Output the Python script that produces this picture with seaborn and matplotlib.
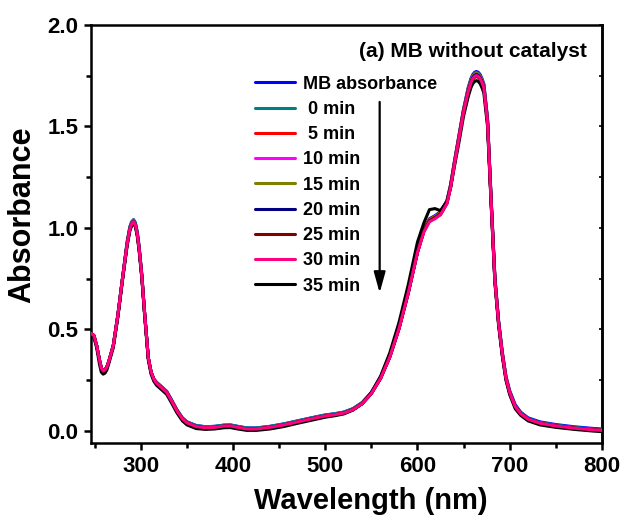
import matplotlib
matplotlib.use("Agg")
import matplotlib.pyplot as plt
import seaborn as sns
import pandas as pd
from matplotlib.ticker import MultipleLocator, FormatStrFormatter
from matplotlib.lines import Line2D

wavelength = [246, 249, 252, 255, 257, 259, 261, 263, 265, 270, 275, 280,
              285, 288, 290, 292, 294, 296, 298, 301, 304, 308, 311, 314,
              317, 322, 328, 333, 339, 345, 350, 360, 370, 380,
              390, 397, 405, 415, 425, 440, 455, 470, 485, 500,
              510, 520, 530, 540, 550, 560, 570, 580, 590, 600,
              607, 613, 619, 625, 632, 636, 640, 645, 650,
              655, 658, 660, 662, 664, 666, 668, 670, 672,
              676, 680, 684, 688, 692, 696,
              700, 706, 712, 720, 733, 750, 770, 790, 800]

mb_abs = [0.48, 0.47, 0.42, 0.35, 0.31, 0.295, 0.30, 0.315, 0.34, 0.42, 0.57, 0.75,
          0.93, 1.005, 1.03, 1.04, 1.025, 0.98, 0.91, 0.77, 0.58, 0.36, 0.29, 0.255,
          0.24, 0.22, 0.195, 0.155, 0.105, 0.065, 0.045, 0.027, 0.021, 0.023,
          0.029, 0.030, 0.023, 0.015, 0.015, 0.023, 0.035, 0.050, 0.065, 0.079,
          0.085, 0.093, 0.11, 0.14, 0.19, 0.265, 0.37, 0.51, 0.69, 0.89,
          0.995, 1.045, 1.06, 1.08, 1.135, 1.215, 1.325, 1.455, 1.585,
          1.69, 1.735, 1.755, 1.766, 1.77, 1.766, 1.755, 1.735, 1.71,
          1.54, 1.14, 0.76, 0.545, 0.39, 0.27,
          0.20, 0.13, 0.093, 0.065, 0.045, 0.032, 0.021, 0.013, 0.010]

min_0 = [0.48, 0.47, 0.42, 0.35, 0.31, 0.295, 0.30, 0.315, 0.34, 0.42, 0.57, 0.75,
         0.93, 1.005, 1.03, 1.04, 1.025, 0.98, 0.91, 0.77, 0.58, 0.36, 0.29, 0.255,
         0.24, 0.22, 0.195, 0.155, 0.105, 0.065, 0.045, 0.027, 0.021, 0.023,
         0.029, 0.030, 0.023, 0.015, 0.015, 0.023, 0.035, 0.050, 0.065, 0.079,
         0.085, 0.093, 0.11, 0.14, 0.19, 0.265, 0.37, 0.51, 0.69, 0.89,
         0.99, 1.04, 1.055, 1.075, 1.13, 1.21, 1.32, 1.45, 1.58,
         1.685, 1.73, 1.75, 1.761, 1.765, 1.761, 1.75, 1.73, 1.705,
         1.535, 1.135, 0.755, 0.54, 0.385, 0.265,
         0.195, 0.125, 0.09, 0.062, 0.042, 0.029, 0.018, 0.010, 0.007]

min_5 = [0.48, 0.47, 0.42, 0.35, 0.31, 0.295, 0.30, 0.315, 0.34, 0.42, 0.57, 0.75,
         0.92, 0.995, 1.02, 1.03, 1.015, 0.97, 0.90, 0.76, 0.58, 0.36, 0.29, 0.255,
         0.235, 0.215, 0.19, 0.15, 0.10, 0.06, 0.04, 0.022, 0.016, 0.018,
         0.024, 0.025, 0.018, 0.010, 0.010, 0.018, 0.030, 0.045, 0.060, 0.074,
         0.080, 0.088, 0.105, 0.135, 0.185, 0.26, 0.365, 0.505, 0.68, 0.88,
         0.99, 1.04, 1.055, 1.075, 1.13, 1.21, 1.32, 1.45, 1.58,
         1.68, 1.725, 1.745, 1.756, 1.76, 1.756, 1.745, 1.725, 1.70,
         1.53, 1.13, 0.75, 0.535, 0.385, 0.265,
         0.19, 0.12, 0.085, 0.058, 0.038, 0.025, 0.014, 0.006, 0.003]

min_10 = [0.48, 0.47, 0.42, 0.35, 0.31, 0.295, 0.30, 0.315, 0.34, 0.42, 0.57, 0.75,
          0.92, 0.995, 1.02, 1.03, 1.015, 0.97, 0.90, 0.76, 0.58, 0.36, 0.29, 0.255,
          0.235, 0.215, 0.19, 0.15, 0.10, 0.06, 0.04, 0.022, 0.016, 0.018,
          0.024, 0.025, 0.018, 0.010, 0.010, 0.018, 0.030, 0.045, 0.060, 0.074,
          0.080, 0.088, 0.105, 0.135, 0.185, 0.26, 0.365, 0.505, 0.68, 0.88,
          0.985, 1.035, 1.05, 1.07, 1.125, 1.205, 1.315, 1.445, 1.575,
          1.675, 1.72, 1.74, 1.751, 1.755, 1.751, 1.74, 1.72, 1.695,
          1.525, 1.125, 0.745, 0.535, 0.38, 0.26,
          0.19, 0.12, 0.085, 0.058, 0.038, 0.025, 0.014, 0.006, 0.003]

min_15 = [0.48, 0.47, 0.42, 0.35, 0.31, 0.295, 0.30, 0.315, 0.34, 0.42, 0.57, 0.75,
          0.92, 0.995, 1.02, 1.03, 1.015, 0.97, 0.90, 0.76, 0.58, 0.36, 0.29, 0.255,
          0.235, 0.215, 0.19, 0.15, 0.10, 0.06, 0.04, 0.022, 0.016, 0.018,
          0.024, 0.025, 0.018, 0.010, 0.010, 0.018, 0.030, 0.045, 0.060, 0.074,
          0.080, 0.088, 0.105, 0.135, 0.185, 0.26, 0.365, 0.505, 0.68, 0.88,
          0.99, 1.04, 1.055, 1.075, 1.13, 1.21, 1.32, 1.45, 1.58,
          1.68, 1.725, 1.745, 1.756, 1.76, 1.756, 1.745, 1.725, 1.70,
          1.53, 1.13, 0.75, 0.535, 0.385, 0.265,
          0.19, 0.12, 0.085, 0.058, 0.038, 0.025, 0.014, 0.006, 0.003]

min_20 = [0.48, 0.47, 0.42, 0.35, 0.31, 0.295, 0.30, 0.315, 0.34, 0.42, 0.57, 0.75,
          0.92, 0.995, 1.02, 1.03, 1.015, 0.97, 0.90, 0.76, 0.58, 0.36, 0.29, 0.255,
          0.235, 0.215, 0.19, 0.15, 0.10, 0.06, 0.04, 0.022, 0.016, 0.018,
          0.024, 0.025, 0.018, 0.010, 0.010, 0.018, 0.030, 0.045, 0.060, 0.074,
          0.080, 0.088, 0.105, 0.135, 0.185, 0.26, 0.365, 0.505, 0.68, 0.88,
          0.985, 1.035, 1.05, 1.07, 1.125, 1.205, 1.315, 1.445, 1.575,
          1.675, 1.72, 1.74, 1.751, 1.755, 1.751, 1.74, 1.72, 1.695,
          1.525, 1.125, 0.745, 0.535, 0.38, 0.26,
          0.19, 0.12, 0.085, 0.058, 0.038, 0.025, 0.014, 0.006, 0.003]

min_25 = [0.48, 0.47, 0.42, 0.35, 0.31, 0.295, 0.30, 0.315, 0.34, 0.42, 0.57, 0.75,
          0.92, 0.995, 1.02, 1.03, 1.015, 0.97, 0.90, 0.76, 0.58, 0.36, 0.29, 0.255,
          0.235, 0.215, 0.19, 0.15, 0.10, 0.06, 0.04, 0.022, 0.016, 0.018,
          0.024, 0.025, 0.018, 0.010, 0.010, 0.018, 0.030, 0.045, 0.060, 0.074,
          0.080, 0.088, 0.105, 0.135, 0.185, 0.26, 0.365, 0.505, 0.68, 0.88,
          0.985, 1.035, 1.05, 1.065, 1.12, 1.20, 1.31, 1.44, 1.57,
          1.665, 1.71, 1.73, 1.741, 1.745, 1.741, 1.73, 1.71, 1.685,
          1.515, 1.115, 0.74, 0.53, 0.375, 0.255,
          0.185, 0.12, 0.085, 0.058, 0.038, 0.025, 0.014, 0.006, 0.003]

min_30 = [0.48, 0.47, 0.42, 0.35, 0.31, 0.295, 0.30, 0.315, 0.34, 0.42, 0.57, 0.75,
          0.92, 0.995, 1.02, 1.03, 1.015, 0.97, 0.90, 0.76, 0.58, 0.36, 0.29, 0.255,
          0.235, 0.215, 0.19, 0.15, 0.10, 0.06, 0.04, 0.022, 0.016, 0.018,
          0.024, 0.025, 0.018, 0.010, 0.010, 0.018, 0.030, 0.045, 0.060, 0.074,
          0.080, 0.088, 0.105, 0.135, 0.185, 0.26, 0.365, 0.505, 0.68, 0.88,
          0.98, 1.03, 1.045, 1.065, 1.12, 1.20, 1.31, 1.44, 1.57,
          1.67, 1.715, 1.735, 1.746, 1.75, 1.746, 1.735, 1.715, 1.69,
          1.52, 1.12, 0.74, 0.53, 0.38, 0.26,
          0.19, 0.12, 0.085, 0.058, 0.038, 0.025, 0.014, 0.006, 0.003]

min_35 = [0.47, 0.46, 0.41, 0.33, 0.29, 0.28, 0.285, 0.30, 0.33, 0.41, 0.56, 0.74,
          0.91, 0.985, 1.01, 1.02, 1.005, 0.96, 0.89, 0.75, 0.57, 0.35, 0.28, 0.245,
          0.225, 0.205, 0.18, 0.14, 0.09, 0.05, 0.03, 0.012, 0.008, 0.010,
          0.016, 0.017, 0.010, 0.003, 0.003, 0.010, 0.022, 0.038, 0.053, 0.068,
          0.075, 0.084, 0.103, 0.135, 0.19, 0.27, 0.385, 0.535, 0.72, 0.93,
          1.025, 1.09, 1.095, 1.085, 1.13, 1.20, 1.30, 1.42, 1.55,
          1.645, 1.69, 1.71, 1.721, 1.725, 1.721, 1.71, 1.69, 1.665,
          1.50, 1.11, 0.73, 0.52, 0.37, 0.25,
          0.18, 0.11, 0.077, 0.050, 0.030, 0.018, 0.008, 0.000, -0.003]

series_labels = ["MB absorbance", " 0 min", " 5 min", "10 min", "15 min",
                 "20 min", "25 min", "30 min", "35 min"]
series_values = [mb_abs, min_0, min_5, min_10, min_15, min_20, min_25, min_30, min_35]
series_colors = ["#0000FF", "#008080", "#FF0000", "#FF00FF", "#808000",
                 "#000080", "#800000", "#FF0080", "#000000"]

title_text = "(a) MB without catalyst"
xlabel_text = "Wavelength (nm)"
ylabel_text = "Absorbance"

sns.set_theme(style="ticks")
plt.rcParams["font.family"] = ["Liberation Sans", "DejaVu Sans"]
plt.rcParams["font.weight"] = "bold"
plt.rcParams["axes.labelweight"] = "bold"
for key in ["text.color", "axes.labelcolor", "xtick.color", "ytick.color",
            "axes.edgecolor"]:
    plt.rcParams[key] = "black"

fig = plt.figure(figsize=(6.23, 5.27), dpi=100)
ax = fig.add_axes([0.146, 0.159, 0.820, 0.794])

draw_z = {"30 min": 5}
handles = []
for lab, vals, col in zip(series_labels, series_values, series_colors):
    df = pd.DataFrame({"Wavelength": wavelength, "A": vals})
    sns.lineplot(data=df, x="Wavelength", y="A", color=col, lw=2.2, ax=ax,
                 zorder=draw_z.get(lab, 3), sort=False,
                 solid_joinstyle="round", solid_capstyle="round")
    handles.append(Line2D([0], [0], color=col, lw=2.2))

ax.set_xlim(245.8, 800)
ax.set_ylim(-0.06, 2.0)
ax.xaxis.set_major_locator(MultipleLocator(100))
ax.xaxis.set_minor_locator(MultipleLocator(50))
ax.yaxis.set_major_locator(MultipleLocator(0.5))
ax.yaxis.set_minor_locator(MultipleLocator(0.25))
ax.yaxis.set_major_formatter(FormatStrFormatter("%.1f"))
ax.tick_params(axis="both", which="major", direction="out", length=5,
               width=1.8, labelsize=16, colors="black", pad=4)
ax.tick_params(axis="both", which="minor", direction="out", length=3.5,
               width=1.8, colors="black")
for lbl in ax.get_xticklabels() + ax.get_yticklabels():
    lbl.set_fontweight("bold")

for sp in ax.spines.values():
    sp.set_linewidth(1.8)
    sp.set_color("black")

sec = ax.secondary_yaxis("right")
sec.yaxis.set_major_locator(MultipleLocator(0.25))
sec.tick_params(direction="in", length=2.5, width=1.2, labelright=False,
                colors="black")
sec.spines["right"].set_linewidth(1.8)
sec.spines["right"].set_color("black")

ax.set_xlabel(xlabel_text, fontsize=21, fontweight="bold", color="black")
ax.set_ylabel(ylabel_text, fontsize=22, fontweight="bold", color="black")
ax.xaxis.set_label_coords(0.548, -0.105)
ax.yaxis.set_label_coords(-0.106, 0.547)

ax.text(0.971, 0.923, title_text, transform=ax.transAxes, ha="right",
        va="baseline", fontsize=15, fontweight="bold", color="black")

leg = ax.legend(handles, series_labels, loc="upper left",
                bbox_to_anchor=(0.321, 0.878), frameon=False, fontsize=13,
                handlelength=2.2, handletextpad=0.45, labelspacing=0.455,
                borderpad=0, borderaxespad=0)
for t in leg.get_texts():
    t.set_fontweight("bold")
    t.set_color("black")

ax.annotate("", xy=(559, 0.68), xytext=(559, 1.62),
            arrowprops=dict(arrowstyle="-|>,head_length=0.9,head_width=0.25",
                            lw=1.6, color="black", mutation_scale=14,
                            shrinkA=0, shrinkB=0))

fig.savefig("out.png", dpi=100)
